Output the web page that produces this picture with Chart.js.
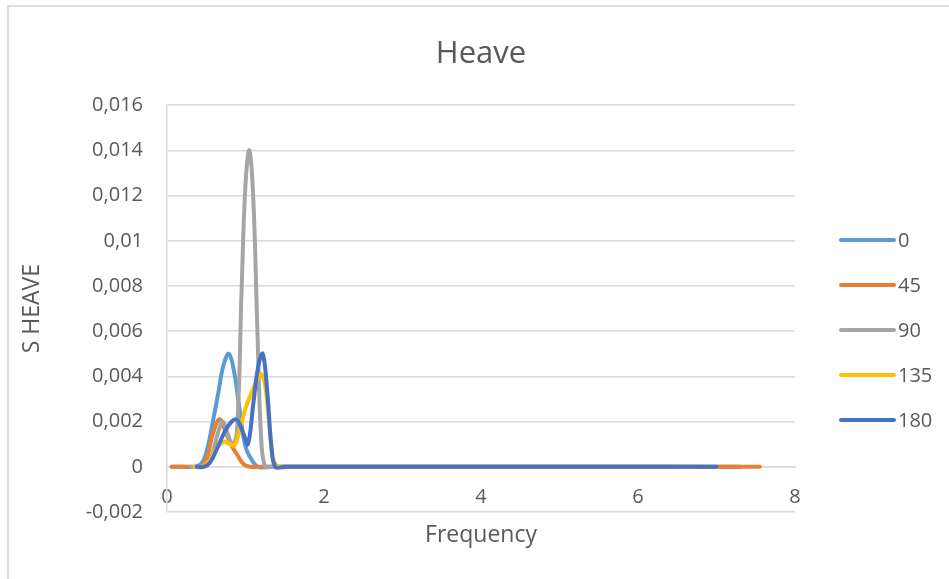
<!DOCTYPE html>
<html>
<head>
<meta charset="utf-8">
<script src="https://cdn.jsdelivr.net/npm/chart.js@4.4.1/dist/chart.umd.min.js"></script>
<style>
  html, body { margin: 0; padding: 0; background: #fff; overflow: hidden; }
  #wrap { position: relative; width: 949px; height: 579px; overflow: hidden; }
  #frame { position: absolute; left: 7px; top: 5px; width: 1000px; height: 1000px; border: 2px solid #dcdcdc; box-sizing: border-box; }
  canvas { position: absolute; left: 0; top: 0; }
</style>
</head>
<body>
<div id="wrap">
  <div id="frame"></div>
  <canvas id="heave" width="949" height="579"></canvas>
</div>
<script>
// heading labels and colours
const headings = ['0', '45', '90', '135', '180'];
const colors = ['#5b9bd5', '#ed7d31', '#a5a5a5', '#ffc000', '#4472c4'];

// frequency / spectrum pairs per heading
const freq0 = [0.06, 0.2, 0.35, 0.45, 0.52, 0.59, 0.65, 0.72, 0.79, 0.86, 0.93, 1.0, 1.08, 1.16, 1.3, 2, 3, 4, 5, 6, 7.3];
const heave0 = [0, 0, 0, 0.0002, 0.0009, 0.0021, 0.0032, 0.0045, 0.005, 0.0041, 0.0024, 0.0009, 0.0003, 0, 0, 0, 0, 0, 0, 0, 0];

const freq45 = [0.06, 0.2, 0.32, 0.42, 0.5, 0.58, 0.67, 0.75, 0.83, 0.9, 0.98, 1.06, 1.2, 2, 3, 4, 5, 6, 7, 7.55];
const heave45 = [0, 0, 0, 0, 0.0003, 0.0014, 0.0021, 0.0015, 0.0009, 0.0005, 0.0001, 0, 0, 0, 0, 0, 0, 0, 0, 0];

const freq90 = [0.3, 0.45, 0.52, 0.58, 0.65, 0.71, 0.77, 0.83, 0.89, 0.95, 1.0, 1.05, 1.1, 1.15, 1.2, 1.25, 1.32, 1.45, 2, 3, 4, 5, 6.5];
const heave90 = [0, 0, 0.0001, 0.0006, 0.0015, 0.002, 0.0015, 0.001, 0.0015, 0.0078, 0.0125, 0.014, 0.0118, 0.0062, 0.0012, 0, 0, 0, 0, 0, 0, 0, 0];

const freq135 = [0.35, 0.45, 0.55, 0.63, 0.72, 0.8, 0.86, 0.93, 1.0, 1.07, 1.14, 1.2, 1.25, 1.3, 1.35, 1.42, 1.55, 2, 3, 4, 5, 6, 6.8];
const heave135 = [0, 0, 0.0003, 0.0008, 0.0011, 0.001, 0.00095, 0.0017, 0.0026, 0.0032, 0.0038, 0.0041, 0.0036, 0.002, 0.0004, 0, 0, 0, 0, 0, 0, 0, 0];

const freq180 = [0.38, 0.47, 0.55, 0.65, 0.76, 0.88, 0.97, 1.03, 1.1, 1.16, 1.22, 1.28, 1.33, 1.38, 1.5, 2, 3, 4, 5, 6, 7];
const heave180 = [0, 0, 0.0002, 0.0009, 0.0017, 0.0021, 0.0015, 0.001, 0.0028, 0.0044, 0.005, 0.0032, 0.0009, 0, 0, 0, 0, 0, 0, 0, 0];

const freqs = [freq0, freq45, freq90, freq135, freq180];
const heaves = [heave0, heave45, heave90, heave135, heave180];

const textColor = '#595959';
const gridColor = '#d9d9d9';
const family = '"Open Sans", sans-serif';

Chart.defaults.font.family = family;
Chart.defaults.color = textColor;

function toPoints(xs, ys) {
    return xs.map((x, i) => ({ x: x, y: ys[i] }));
}

// legend drawn as line samples to the right of the plot
const sideLegend = {
    id: 'sideLegend',
    afterDraw(chart) {
        const ctx = chart.ctx;
        const x0 = chart.chartArea.right + 46;
        ctx.save();
        ctx.font = '20px ' + family;
        ctx.textBaseline = 'middle';
        ctx.textAlign = 'left';
        ctx.lineCap = 'round';
        ctx.lineWidth = 4;
        chart.data.datasets.forEach((ds, i) => {
            const y = 240 + i * 45;
            ctx.strokeStyle = ds.borderColor;
            ctx.beginPath();
            ctx.moveTo(x0, y);
            ctx.lineTo(x0 + 53, y);
            ctx.stroke();
            ctx.fillStyle = textColor;
            ctx.fillText(ds.label, x0 + 57, y + 1);
        });
        ctx.restore();
    }
};

new Chart('heave', {
    type: 'scatter',
    data: {
        datasets: headings.map((h, i) => ({
            label: h,
            data: toPoints(freqs[i], heaves[i]),
            borderColor: colors[i],
            backgroundColor: colors[i],
            showLine: true,
            borderWidth: 4,
            borderCapStyle: 'round',
            tension: 0.4,
            pointRadius: 0,
            order: headings.length - 1 - i
        }))
    },
    options: {
        responsive: false,
        animation: false,
        layout: { padding: { left: 8, top: 6, right: 154, bottom: 67 } },
        plugins: {
            legend: { display: false },
            tooltip: { enabled: false },
            title: {
                display: true,
                text: 'Heave',
                fullSize: false,
                color: textColor,
                font: { size: 31, weight: 'normal' },
                padding: { top: 30, bottom: 32 }
            }
        },
        scales: {
            x: {
                type: 'linear',
                position: { y: 0 },
                min: 0,
                max: 8,
                ticks: { stepSize: 2, padding: 18, color: textColor, font: { size: 20 } },
                grid: { display: false, drawTicks: false },
                border: { display: true, color: gridColor, width: 1.5 },
                title: { display: true, text: 'Frequency', color: textColor, font: { size: 23 }, padding: 0 },
                afterFit: (s) => { s.height = 82; }
            },
            y: {
                min: -0.002,
                max: 0.016,
                ticks: {
                    stepSize: 0.002,
                    padding: 24,
                    color: textColor,
                    font: { size: 20 },
                    callback: (v) => (+v.toFixed(3)).toString().replace('.', ',')
                },
                grid: { color: gridColor, lineWidth: 1.5, drawTicks: false },
                border: { display: true, color: gridColor, width: 1.5 },
                title: { display: true, text: 'S HEAVE', color: textColor, font: { size: 23 }, padding: { top: 11, bottom: 0 } },
                afterFit: (s) => { s.width = 159; }
            }
        }
    },
    plugins: [sideLegend]
});
</script>
</body>
</html>
